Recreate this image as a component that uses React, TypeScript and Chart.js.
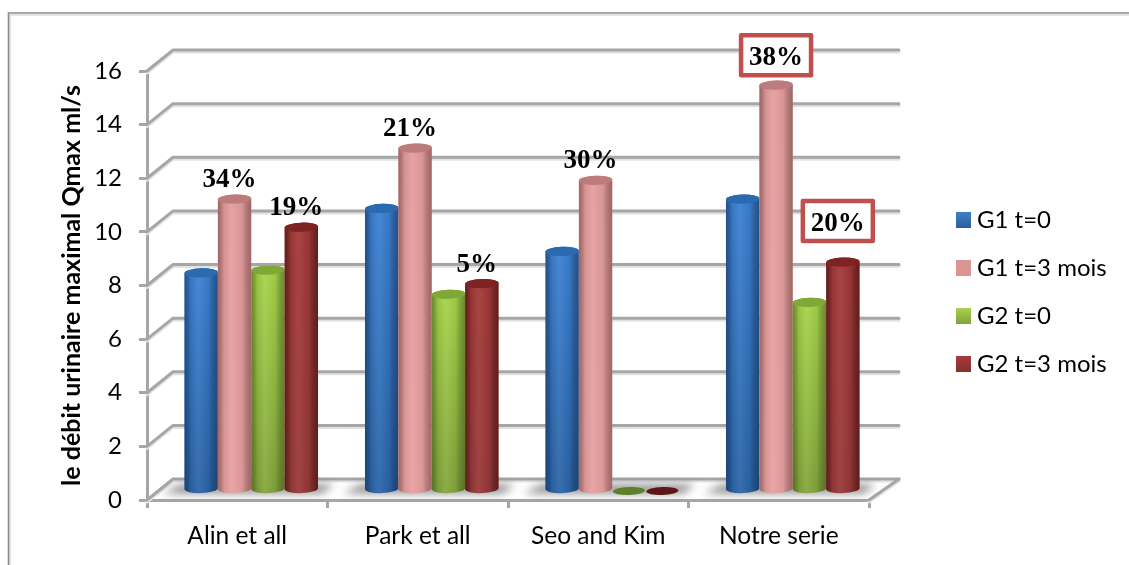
import React, { useEffect, useRef } from "react";
import { Chart, registerables } from "chart.js";

Chart.register(...registerables);

// Peak urinary flow per study and per group
const categories = ["Alin et all", "Park et all", "Seo and Kim", "Notre serie"];
const g1Start = [8.1, 10.5, 8.9, 10.85];
const g1ThreeMonths = [10.85, 12.75, 11.55, 15.1];
const g2Start = [8.2, 7.3, 0, 7.0];
const g2ThreeMonths = [9.8, 7.7, 0, 8.5];

// Gain annotations written above the three-month columns
const g1Gains = ["34%", "21%", "30%", "38%"];
const g2Gains = ["19%", "5%", "", "20%"];
const highlightedCategory = 3;

const yAxisTitle = "le débit urinaire maximal Qmax ml/s";

type Shade = { top: string; bottom: string; edge: string; cap: string; flat: string; swatch: [string, string] };

const shades: Shade[] = [
  { top: "#3B80D2", bottom: "#2B65A8", edge: "rgba(18,44,84,0.55)", cap: "#2B69B0", flat: "#2E6AB0", swatch: ["#3F80C8", "#2A5E9C"] },
  { top: "#E59D9D", bottom: "#E8A0A0", edge: "rgba(96,48,48,0.5)", cap: "#BC7C7C", flat: "#D99694", swatch: ["#D99694", "#D99694"] },
  { top: "#A6D44A", bottom: "#84A63C", edge: "rgba(50,70,16,0.5)", cap: "#7FA837", flat: "#5F7F2A", swatch: ["#A8D24E", "#7FA33B"] },
  { top: "#A33838", bottom: "#983838", edge: "rgba(60,10,10,0.6)", cap: "#7E2323", flat: "#5E1618", swatch: ["#A23D3B", "#8A2E2C"] },
];

const GRID = "#A6A6A6";
const FONT = "Lato, sans-serif";

function drawFrame(ctx: CanvasRenderingContext2D, w: number, h: number) {
  ctx.save();
  ctx.strokeStyle = "#E4E4E4";
  ctx.lineWidth = 2;
  ctx.beginPath();
  ctx.moveTo(w, 15);
  ctx.lineTo(10, 15);
  ctx.lineTo(10, h);
  ctx.stroke();
  ctx.strokeStyle = "#8C8C8C";
  ctx.lineWidth = 1.6;
  ctx.beginPath();
  ctx.moveTo(w, 13);
  ctx.lineTo(8.5, 13);
  ctx.lineTo(8.5, h);
  ctx.stroke();
  ctx.restore();
}

// Receding walls: each gridline runs from the value axis back to the rear plane
function drawWalls(chart: Chart) {
  const { ctx, chartArea } = chart;
  const y = chart.scales.y;
  const depthX = 26;
  const depthY = 21;
  const rearRight = chartArea.right + 30;
  ctx.save();
  ctx.lineCap = "round";
  for (const pass of [{ color: "#E2E2E2", shift: 2 }, { color: GRID, shift: 0 }]) {
    ctx.strokeStyle = pass.color;
    ctx.lineWidth = 3;
    for (const t of y.ticks) {
      const py = y.getPixelForValue(t.value) + pass.shift;
      ctx.beginPath();
      ctx.moveTo(chartArea.left, py);
      ctx.lineTo(chartArea.left + depthX, py - depthY);
      ctx.lineTo(rearRight, py - depthY);
      ctx.stroke();
    }
    const py0 = y.getPixelForValue(0) + pass.shift;
    ctx.beginPath();
    ctx.moveTo(chartArea.right, py0);
    ctx.lineTo(rearRight, py0 - depthY);
    ctx.stroke();
  }
  ctx.restore();
}

const BAR_SHIFT_X = 14;
const BAR_SHIFT_Y = -10;
const CAP_RY = 4.6;
const TILT = -0.035;

function drawCylinder(ctx: CanvasRenderingContext2D, bar: any, s: Shade, isEmpty: boolean) {
  const cx = bar.x + BAR_SHIFT_X;
  const rx = bar.width / 2;
  const top = bar.y + BAR_SHIFT_Y;
  const base = bar.base + BAR_SHIFT_Y;
  if (isEmpty) {
    ctx.fillStyle = s.flat;
    ctx.beginPath();
    ctx.ellipse(cx, base + 1, rx * 0.96, CAP_RY - 0.6, TILT, 0, Math.PI * 2);
    ctx.fill();
    return;
  }
  const outline = () => {
    ctx.beginPath();
    ctx.ellipse(cx, base, rx, CAP_RY, TILT, 0, Math.PI);
    ctx.ellipse(cx, top, rx, CAP_RY, TILT, Math.PI, Math.PI * 2);
    ctx.closePath();
  };
  const body = ctx.createLinearGradient(0, top, 0, base);
  body.addColorStop(0, s.top);
  body.addColorStop(1, s.bottom);
  outline();
  ctx.fillStyle = body;
  ctx.fill();
  const side = ctx.createLinearGradient(cx - rx, 0, cx + rx, 0);
  side.addColorStop(0, s.edge);
  side.addColorStop(0.18, "rgba(0,0,0,0.08)");
  side.addColorStop(0.42, "rgba(255,255,255,0.06)");
  side.addColorStop(0.72, "rgba(0,0,0,0.05)");
  side.addColorStop(1, s.edge);
  outline();
  ctx.fillStyle = side;
  ctx.fill();
  ctx.fillStyle = s.cap;
  ctx.beginPath();
  ctx.ellipse(cx, top, rx, CAP_RY, TILT, 0, Math.PI * 2);
  ctx.fill();
}

function drawFloorShadow(chart: Chart) {
  const { ctx } = chart;
  const metas = chart.data.datasets.map((_, i) => chart.getDatasetMeta(i));
  ctx.save();
  ctx.filter = "blur(4px)";
  ctx.fillStyle = "rgba(120,120,120,0.85)";
  categories.forEach((_, c) => {
    const first = metas[0].data[c] as any;
    const last = metas[metas.length - 1].data[c] as any;
    const left = first.x - first.width / 2 + BAR_SHIFT_X;
    const right = last.x + last.width / 2 + BAR_SHIFT_X;
    const base = first.base + BAR_SHIFT_Y;
    ctx.beginPath();
    ctx.moveTo(left - 22, base + 5);
    ctx.lineTo(right + 4, base + 5);
    ctx.lineTo(right + 16, base - 4);
    ctx.lineTo(left - 4, base - 4);
    ctx.closePath();
    ctx.fill();
  });
  ctx.restore();
}

function drawGains(chart: Chart) {
  const { ctx } = chart;
  const place = (datasetIndex: number, gains: string[]) => {
    const meta = chart.getDatasetMeta(datasetIndex);
    gains.forEach((text, c) => {
      if (!text) return;
      const bar = meta.data[c] as any;
      const boxed = c === highlightedCategory;
      const lift = boxed ? (datasetIndex === 1 ? 27 : 38) : 19;
      const nudge = boxed && datasetIndex === 1 ? 0 : -5;
      const x = bar.x + BAR_SHIFT_X + nudge;
      const y = bar.y + BAR_SHIFT_Y - lift;
      if (boxed) {
        ctx.fillStyle = "#FFFFFF";
        ctx.strokeStyle = "#C0504D";
        ctx.lineWidth = 4.5;
        ctx.lineJoin = "round";
        ctx.beginPath();
        ctx.rect(x - 35, y - 23, 70, 40);
        ctx.fill();
        ctx.stroke();
      }
      ctx.fillStyle = "#000000";
      ctx.font = "bold 27px 'Liberation Serif', serif";
      ctx.textAlign = "center";
      ctx.textBaseline = "middle";
      ctx.fillText(text, x, y);
    });
  };
  ctx.save();
  place(1, g1Gains);
  place(3, g2Gains);
  ctx.restore();
}

function drawKey(chart: Chart) {
  const { ctx } = chart;
  ctx.save();
  ctx.font = `24px ${FONT}`;
  ctx.textAlign = "left";
  ctx.textBaseline = "middle";
  chart.data.datasets.forEach((ds, i) => {
    const cy = 220 + i * 48;
    const g = ctx.createLinearGradient(0, cy - 8, 0, cy + 8);
    g.addColorStop(0, shades[i].swatch[0]);
    g.addColorStop(1, shades[i].swatch[1]);
    ctx.fillStyle = g;
    ctx.fillRect(956, cy - 8, 15, 16);
    ctx.fillStyle = "#000000";
    ctx.fillText(String(ds.label), 977, cy);
  });
  ctx.restore();
}

const sceneryPlugin = {
  id: "scenery",
  beforeDraw(chart: Chart) {
    const { ctx, width, height } = chart;
    ctx.save();
    ctx.fillStyle = "#FFFFFF";
    ctx.fillRect(0, 0, width, height);
    ctx.restore();
    drawFrame(ctx, width, height);
  },
  beforeDatasetsDraw(chart: Chart) {
    drawWalls(chart);
    drawFloorShadow(chart);
    const { ctx } = chart;
    ctx.save();
    categories.forEach((_, c) => {
      chart.data.datasets.forEach((ds, i) => {
        const bar = chart.getDatasetMeta(i).data[c];
        drawCylinder(ctx, bar, shades[i], (ds.data[c] as number) === 0);
      });
    });
    ctx.restore();
  },
  // Columns are painted above as cylinders instead of flat rectangles
  beforeDatasetDraw() {
    return false;
  },
  afterDatasetsDraw(chart: Chart) {
    drawGains(chart);
    drawKey(chart);
  },
};

export default function App() {
  const ref = useRef<HTMLCanvasElement>(null);
  useEffect(() => {
    if (!ref.current) return;
    const chart = new Chart(ref.current, {
      type: "bar",
      data: {
        labels: categories,
        datasets: [
          { label: "G1 t=0", data: g1Start, backgroundColor: shades[0].flat },
          { label: "G1 t=3 mois", data: g1ThreeMonths, backgroundColor: shades[1].flat },
          { label: "G2 t=0", data: g2Start, backgroundColor: shades[2].flat },
          { label: "G2 t=3 mois", data: g2ThreeMonths, backgroundColor: shades[3].flat },
        ],
      },
      options: {
        responsive: false,
        animation: false,
        layout: { padding: { top: 71, right: 260, bottom: 0, left: 0 } },
        datasets: { bar: { categoryPercentage: 0.74, barPercentage: 1 } },
        plugins: { legend: { display: false }, tooltip: { enabled: false } },
        scales: {
          x: {
            afterFit: (s: any) => { s.height = 65; },
            grid: { drawOnChartArea: false, color: GRID, lineWidth: 3, tickLength: 8 },
            border: { color: GRID, width: 3 },
            ticks: { color: "#000", padding: 13, maxRotation: 0, autoSkip: false, font: { family: FONT, size: 24.5 } },
          },
          y: {
            min: 0,
            max: 16,
            afterFit: (s: any) => { s.width = 147; },
            grid: { drawOnChartArea: false, color: GRID, lineWidth: 3, tickLength: 8 },
            border: { color: GRID, width: 3 },
            ticks: { stepSize: 2, color: "#000", padding: 17, font: { family: FONT, size: 24 } },
            title: {
              display: true,
              text: yAxisTitle,
              color: "#000",
              padding: { top: 57, bottom: 0 },
              font: { family: FONT, size: 25, weight: "bold" },
            },
          },
        },
      },
      plugins: [sceneryPlugin],
    } as any);
    return () => chart.destroy();
  }, []);
  return (
    <div style={{ position: "absolute", left: 0, top: 0, width: 1129, height: 565 }}>
      <canvas ref={ref} width={1129} height={565} style={{ display: "block" }} />
    </div>
  );
}
